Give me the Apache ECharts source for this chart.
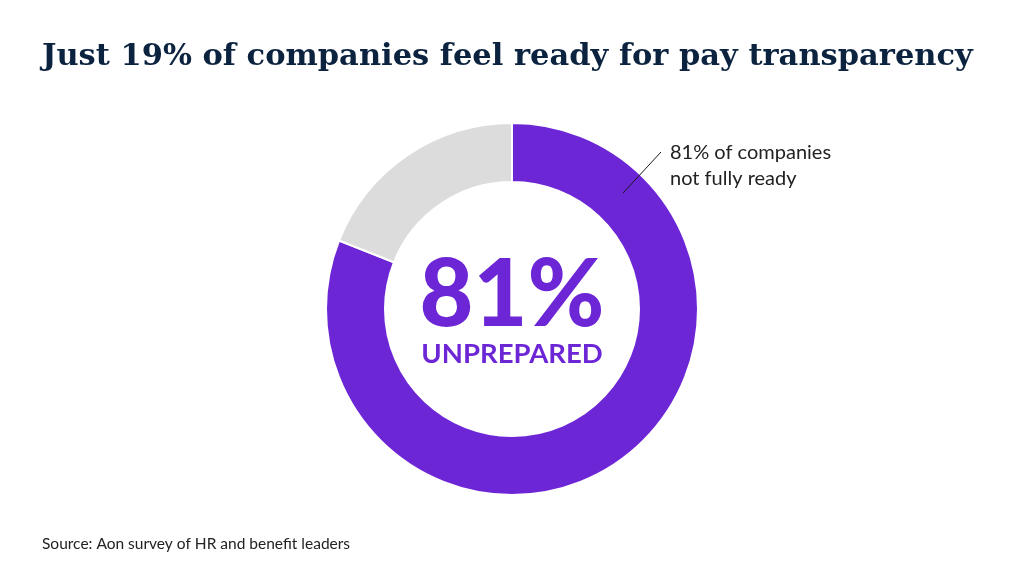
<!DOCTYPE html>
<html style="height: 100%">
<head>
  <meta charset="utf-8">
  <title>Pay transparency readiness</title>
  <style type="text/css">
    body { margin: 0; background: #ffffff; }
  </style>
</head>
<body style="height: 100%; margin: 0;">
  <div id="container" style="width: 1024px; height: 572px"></div>

  <script type="text/javascript" src="https://cdn.jsdelivr.net/npm/echarts@6/dist/echarts.min.js"></script>
  <script type="text/javascript">
    var categories = ['Not fully ready', 'Ready'];
    var shares = [81, 19];
    var sliceColors = ['#6d26d6', '#dcdcdc'];

    var dom = document.getElementById('container');
    var chart = echarts.init(dom);

    var pieData = categories.map(function (name, i) {
      return { name: name, value: shares[i], itemStyle: { color: sliceColors[i] } };
    });

    var option = {
      backgroundColor: '#ffffff',
      animation: false,
      title: [
        {
          text: 'Just 19% of companies feel ready for pay transparency',
          left: 37,
          top: 37,
          textStyle: {
            fontFamily: 'DejaVu Serif',
            fontWeight: 'bold',
            fontSize: 30.5,
            color: '#0c2340'
          }
        },
        {
          text: 'Source: Aon survey of HR and benefit leaders',
          left: 37,
          top: 531,
          textStyle: {
            fontFamily: 'Lato',
            fontWeight: 'normal',
            fontSize: 15.5,
            color: '#222222'
          }
        }
      ],
      graphic: [
        {
          type: 'text',
          left: 'center',
          top: 249,
          z: 100,
          style: {
            text: shares[0] + '%',
            font: '900 93px Lato',
            fill: '#6d26d6'
          }
        },
        {
          type: 'text',
          left: 'center',
          top: 340,
          z: 100,
          style: {
            text: 'UNPREPARED',
            font: 'bold 27.5px Lato',
            fill: '#6d26d6'
          }
        },
        {
          type: 'line',
          z: 100,
          shape: { x1: 623, y1: 193, x2: 661, y2: 152 },
          style: { stroke: '#1a1a1a', lineWidth: 1 }
        },
        {
          type: 'text',
          left: 670,
          top: 140,
          z: 100,
          style: {
            text: shares[0] + '% of companies\nnot fully ready',
            font: '20px Lato',
            lineHeight: 26,
            fill: '#222222'
          }
        }
      ],
      series: [
        {
          type: 'pie',
          center: [512, 309],
          radius: [127, 186],
          startAngle: 90,
          clockwise: true,
          silent: true,
          z: 1,
          label: { show: false },
          labelLine: { show: false },
          itemStyle: { borderColor: '#ffffff', borderWidth: 2 },
          data: pieData
        }
      ]
    };

    chart.setOption(option);
  </script>
</body>
</html>
